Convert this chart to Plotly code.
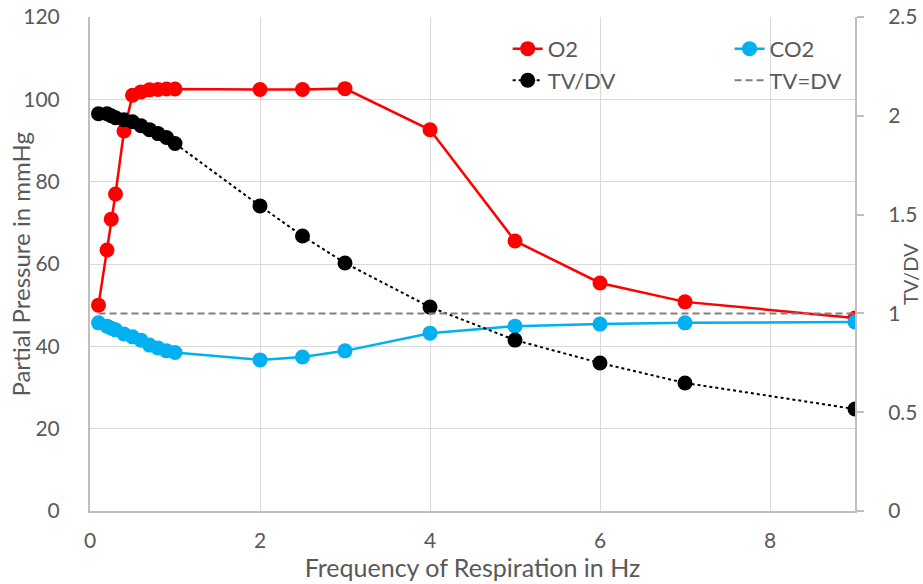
import plotly.graph_objects as go

# Respiration frequency (Hz)
freq = [0.1, 0.2, 0.25, 0.3, 0.4, 0.5, 0.6, 0.7, 0.8, 0.9, 1.0, 2, 2.5, 3, 4, 5, 6, 7, 9]

# Partial pressures (mmHg)
o2 = [50.0, 63.4, 70.9, 77.0, 92.3, 101.0, 101.8, 102.3, 102.4, 102.5, 102.5,
      102.4, 102.4, 102.6, 92.6, 65.6, 55.4, 50.8, 46.9]
co2 = [45.7, 44.9, 44.4, 44.0, 43.0, 42.3, 41.5, 40.3, 39.6, 38.9, 38.5,
       36.7, 37.4, 38.9, 43.2, 44.9, 45.4, 45.7, 45.9]

# Tidal volume / dead volume ratio
tv_dv = [2.01, 2.01, 2.0, 1.99, 1.98, 1.97, 1.95, 1.93, 1.91, 1.89, 1.86,
         1.544, 1.392, 1.255, 1.032, 0.865, 0.749, 0.648, 0.516]

# Reference line TV = DV
ref_x = [0.1, 9]
ref_y = [1, 1]

FONT = "Lato"
TXT = "#595959"
GRID = "#d9d9d9"
AXIS = "#bfbfbf"
TICK_SIZE = 21
TITLE_SIZE = 25
LEGEND_SIZE = 22

fig = go.Figure()
fig.add_trace(go.Scatter(
    x=freq, y=o2, name="O2", mode="lines+markers", legend="legend",
    line=dict(color="#ff0000", width=2.5),
    marker=dict(color="#ff0000", size=15),
))
fig.add_trace(go.Scatter(
    x=freq, y=co2, name="CO2", mode="lines+markers", legend="legend2",
    line=dict(color="#00b0f0", width=2.5),
    marker=dict(color="#00b0f0", size=15),
))
fig.add_trace(go.Scatter(
    x=freq, y=tv_dv, name="TV/DV", mode="lines+markers", yaxis="y2", legend="legend",
    line=dict(color="#000000", width=2, dash="dot"),
    marker=dict(color="#000000", size=15),
))
fig.add_trace(go.Scatter(
    x=ref_x, y=ref_y, name="TV=DV", mode="lines", yaxis="y2", legend="legend2",
    line=dict(color="#808080", width=2, dash="7px,4px"),
))

legend_style = dict(
    orientation="v", yanchor="top", xanchor="left", y=0.978,
    bgcolor="rgba(0,0,0,0)", font=dict(size=LEGEND_SIZE, color=TXT, family=FONT),
    traceorder="normal",
)

fig.update_layout(
    width=923, height=584,
    margin=dict(l=90, r=68, t=17, b=73),
    paper_bgcolor="white", plot_bgcolor="white",
    font=dict(family=FONT, color=TXT, size=TICK_SIZE),
    xaxis=dict(
        range=[0, 9], tickvals=[0, 2, 4, 6, 8], ticks="",
        showgrid=True, gridcolor=GRID, gridwidth=1,
        showline=True, linecolor=AXIS, linewidth=2,
        zeroline=False, automargin=False, ticklabelstandoff=10,
        title=dict(text="Frequency of Respiration in Hz", font=dict(size=TITLE_SIZE), standoff=2),
        tickfont=dict(size=TICK_SIZE),
    ),
    yaxis=dict(
        range=[0, 120], tickvals=[0, 20, 40, 60, 80, 100, 120], ticks="",
        showgrid=True, gridcolor=GRID, gridwidth=1,
        showline=True, linecolor=AXIS, linewidth=2,
        zeroline=False, automargin=False, ticklabelstandoff=24,
        tickfont=dict(size=TICK_SIZE),
    ),
    yaxis2=dict(
        overlaying="y", side="right", range=[0, 2.5],
        tickvals=[0, 0.5, 1, 1.5, 2, 2.5], ticktext=["0", "0.5", "1", "1.5", "2", "2.5"],
        ticks="outside", ticklen=7, tickcolor=AXIS, tickwidth=2,
        showgrid=False, showline=True, linecolor=AXIS, linewidth=2,
        zeroline=False, automargin=False, ticklabelstandoff=20,
        tickfont=dict(size=TICK_SIZE),
    ),
    annotations=[
        dict(
            text="Partial Pressure in mmHg", xref="paper", yref="paper", x=-0.092, y=0.5,
            xanchor="center", yanchor="middle", textangle=-90, showarrow=False,
            font=dict(size=TITLE_SIZE - 1, color=TXT, family=FONT),
        ),
        dict(
            text="TV/DV", xref="paper", yref="paper", x=1.072, y=0.48,
            xanchor="center", yanchor="middle", textangle=-90, showarrow=False,
            font=dict(size=20, color=TXT, family=FONT),
        ),
    ],
    legend=dict(x=0.546, **legend_style),
    legend2=dict(x=0.836, **legend_style),
    showlegend=True,
)

fig.write_html("out.html")
